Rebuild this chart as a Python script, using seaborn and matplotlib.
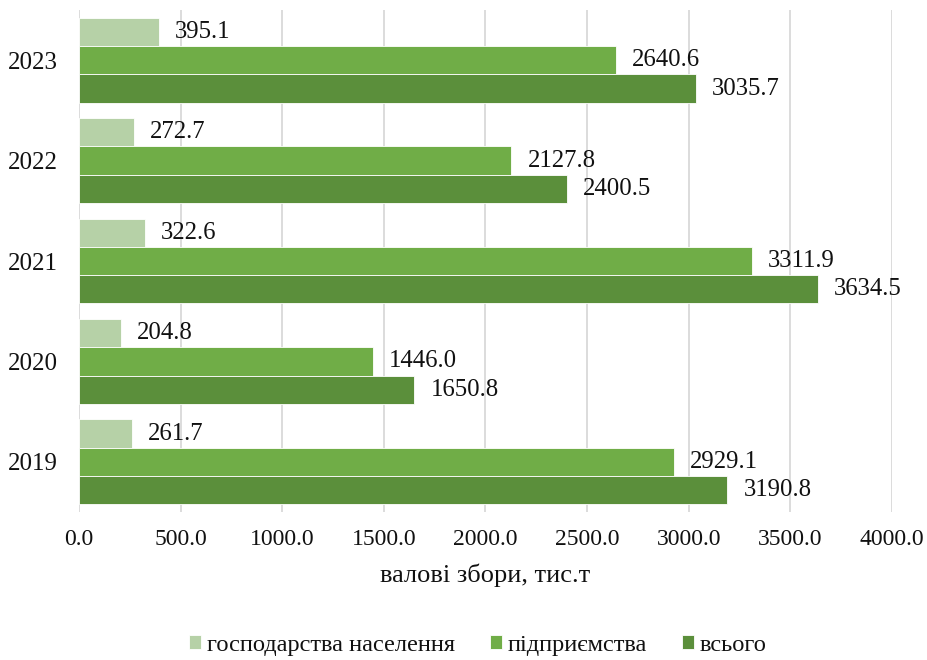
import matplotlib
matplotlib.use("Agg")
import matplotlib.pyplot as plt
import seaborn as sns
import pandas as pd

years = ["2023", "2022", "2021", "2020", "2019"]
series_names = ["господарства населення", "підприємства", "всього"]
households = [395.1, 272.7, 322.6, 204.8, 261.7]
enterprises = [2640.6, 2127.8, 3311.9, 1446.0, 2929.1]
total = [3035.7, 2400.5, 3634.5, 1650.8, 3190.8]
x_ticks = [0, 500, 1000, 1500, 2000, 2500, 3000, 3500, 4000]
colors = ["#B6D1A7", "#70AD47", "#5B8F3B"]

rows = []
for name, vals in zip(series_names, [households, enterprises, total]):
    for y, v in zip(years, vals):
        rows.append({"year": y, "series": name, "value": v})
df = pd.DataFrame(rows)

sns.set_theme(style="white")
plt.rcParams["font.family"] = ["Liberation Serif", "DejaVu Serif"]

fig = plt.figure(figsize=(9.28, 6.6), dpi=100)
ax = fig.add_axes([0.0851, 0.2242, 0.876, 0.7606])

sns.barplot(data=df, x="value", y="year", hue="series", order=years,
            hue_order=series_names, palette=colors, saturation=1, orient="h",
            width=0.845, gap=0, edgecolor="white", linewidth=0.6,
            ax=ax, legend=True)

for cont in ax.containers:
    ax.bar_label(cont, fmt="%.1f", padding=11.5, fontsize=17.8, color="#111111")

ax.set_xlim(0, 4000)
ax.set_xticks(x_ticks)
ax.set_xticklabels([f"{t:.1f}" for t in x_ticks], fontsize=17)
ax.tick_params(axis="x", length=0, pad=12, colors="#111111")
ax.tick_params(axis="y", length=0, pad=15, labelsize=18, colors="#111111")
ax.set_ylabel("")
ax.set_xlabel("валові збори, тис.т", fontsize=19, labelpad=10, color="#111111")
ax.xaxis.grid(True, color="#D9D9D9", linewidth=1.3)
ax.set_axisbelow(True)
for s in ax.spines.values():
    s.set_visible(False)

handles, labels = ax.get_legend_handles_labels()
ax.get_legend().remove()
fig.legend(handles, labels, loc="center", bbox_to_anchor=(0.515, 0.022),
           ncol=3, frameon=False, fontsize=17.6, handlelength=0.5,
           handleheight=0.5, handletextpad=0.25, columnspacing=1.4,
           labelcolor="#111111")

fig.savefig("out.png", dpi=100)
